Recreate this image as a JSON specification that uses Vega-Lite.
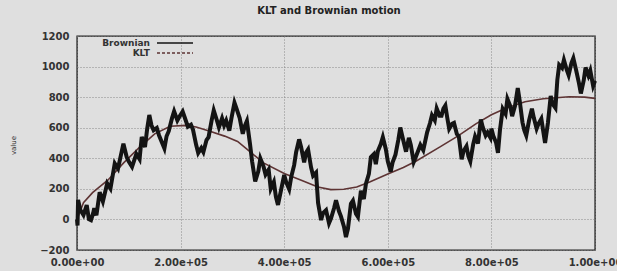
{
  "$schema": "https://vega.github.io/schema/vega-lite/v6.json",
  "width": 518,
  "height": 214,
  "autosize": "none",
  "padding": {"left": 77, "top": 36, "right": 22, "bottom": 21},
  "background": "#dfdfdf",
  "config": {
    "view": {"stroke": "#222222", "strokeWidth": 1.4, "fill": "#dfdfdf"},
    "font": "DejaVu Sans"
  },
  "title": {"text": "KLT and Brownian motion", "font": "DejaVu Sans", "fontSize": 10, "fontWeight": "bold", "color": "#222222", "offset": 15, "anchor": "middle", "dx": -7},
  "datasets": {
    "brownian": [
      {"x":0,"value":0},{"x":1000,"value":-40},{"x":2083,"value":128},{"x":6250,"value":63},{"x":12500,"value":29},{"x":18750,"value":94},{"x":22900,"value":2},{"x":27000,"value":-5},{"x":31250,"value":41},{"x":33300,"value":74},{"x":37500,"value":27},{"x":43750,"value":178},{"x":50000,"value":118},{"x":58300,"value":236},{"x":64600,"value":202},{"x":72900,"value":366},{"x":79200,"value":333},{"x":83300,"value":398},{"x":89600,"value":496},{"x":95800,"value":410},{"x":100000,"value":378},{"x":106250,"value":344},{"x":114600,"value":429},{"x":120800,"value":395},{"x":125000,"value":540},{"x":131250,"value":473},{"x":135400,"value":591},{"x":139600,"value":683},{"x":143750,"value":616},{"x":147900,"value":584},{"x":154000,"value":598},{"x":158300,"value":551},{"x":164600,"value":499},{"x":168750,"value":465},{"x":172900,"value":544},{"x":177100,"value":577},{"x":183300,"value":661},{"x":187500,"value":707},{"x":193750,"value":648},{"x":197900,"value":673},{"x":204000,"value":706},{"x":208000,"value":667},{"x":214000,"value":607},{"x":220000,"value":620},{"x":224000,"value":586},{"x":230000,"value":488},{"x":234000,"value":435},{"x":240000,"value":467},{"x":244000,"value":441},{"x":250000,"value":519},{"x":254000,"value":538},{"x":260000,"value":650},{"x":264000,"value":714},{"x":270000,"value":649},{"x":274000,"value":602},{"x":280000,"value":661},{"x":284000,"value":615},{"x":288000,"value":647},{"x":294000,"value":581},{"x":298000,"value":660},{"x":304000,"value":764},{"x":308000,"value":725},{"x":314000,"value":664},{"x":320000,"value":560},{"x":324000,"value":612},{"x":328000,"value":644},{"x":334000,"value":493},{"x":338000,"value":381},{"x":344000,"value":249},{"x":350000,"value":315},{"x":354000,"value":399},{"x":360000,"value":347},{"x":364000,"value":294},{"x":370000,"value":326},{"x":374000,"value":201},{"x":380000,"value":246},{"x":384000,"value":148},{"x":388000,"value":95},{"x":394000,"value":193},{"x":400000,"value":291},{"x":403800,"value":244},{"x":409600,"value":198},{"x":413500,"value":277},{"x":419200,"value":355},{"x":423000,"value":440},{"x":428800,"value":524},{"x":432700,"value":472},{"x":438500,"value":373},{"x":442300,"value":438},{"x":446100,"value":458},{"x":451900,"value":340},{"x":455800,"value":286},{"x":461500,"value":306},{"x":465400,"value":108},{"x":471200,"value":-4},{"x":475000,"value":42},{"x":480800,"value":61},{"x":486500,"value":-24},{"x":490400,"value":8},{"x":496200,"value":73},{"x":500000,"value":126},{"x":505800,"value":53},{"x":509600,"value":20},{"x":515400,"value":-47},{"x":519200,"value":-115},{"x":523100,"value":-60},{"x":528800,"value":103},{"x":532700,"value":123},{"x":538500,"value":37},{"x":542300,"value":17},{"x":548100,"value":187},{"x":553800,"value":134},{"x":557700,"value":232},{"x":563500,"value":298},{"x":567300,"value":408},{"x":573100,"value":428},{"x":576900,"value":362},{"x":580800,"value":447},{"x":586500,"value":493},{"x":590400,"value":538},{"x":596200,"value":459},{"x":600000,"value":380},{"x":605600,"value":313},{"x":609300,"value":373},{"x":614800,"value":424},{"x":620400,"value":522},{"x":624100,"value":601},{"x":629600,"value":521},{"x":635200,"value":443},{"x":640700,"value":534},{"x":644400,"value":488},{"x":650000,"value":376},{"x":655500,"value":421},{"x":662900,"value":487},{"x":668500,"value":453},{"x":675900,"value":570},{"x":681400,"value":629},{"x":685200,"value":681},{"x":690700,"value":648},{"x":694400,"value":726},{"x":700000,"value":679},{"x":703700,"value":679},{"x":707400,"value":725},{"x":711100,"value":745},{"x":714800,"value":665},{"x":718500,"value":593},{"x":724100,"value":625},{"x":727800,"value":631},{"x":733300,"value":559},{"x":737000,"value":545},{"x":742600,"value":394},{"x":746300,"value":447},{"x":751900,"value":479},{"x":755600,"value":413},{"x":759300,"value":380},{"x":764800,"value":491},{"x":768500,"value":543},{"x":774100,"value":496},{"x":779600,"value":654},{"x":783300,"value":603},{"x":788900,"value":549},{"x":792600,"value":569},{"x":798100,"value":535},{"x":800000,"value":594},{"x":803600,"value":548},{"x":809100,"value":501},{"x":812700,"value":436},{"x":816400,"value":580},{"x":821800,"value":723},{"x":827300,"value":691},{"x":830900,"value":788},{"x":836400,"value":742},{"x":840000,"value":676},{"x":845500,"value":741},{"x":850900,"value":860},{"x":854500,"value":780},{"x":860000,"value":635},{"x":863600,"value":583},{"x":867300,"value":549},{"x":872700,"value":648},{"x":878200,"value":725},{"x":881800,"value":666},{"x":887300,"value":594},{"x":890900,"value":626},{"x":896400,"value":659},{"x":900000,"value":579},{"x":903600,"value":500},{"x":909100,"value":631},{"x":914500,"value":808},{"x":918200,"value":755},{"x":923600,"value":729},{"x":927300,"value":913},{"x":930900,"value":1011},{"x":936400,"value":991},{"x":940000,"value":1043},{"x":945500,"value":978},{"x":949100,"value":944},{"x":954500,"value":1023},{"x":958200,"value":1055},{"x":963600,"value":976},{"x":969100,"value":890},{"x":972700,"value":824},{"x":978200,"value":909},{"x":981800,"value":994},{"x":987300,"value":941},{"x":990900,"value":974},{"x":996400,"value":874},{"x":1000000,"value":907}
    ],
    "klt": [
      {"x":0,"value":0},{"x":12500,"value":110},{"x":30000,"value":175},{"x":60000,"value":258},{"x":90000,"value":370},{"x":120000,"value":470},{"x":150000,"value":560},{"x":180000,"value":610},{"x":210000,"value":615},{"x":230000,"value":605},{"x":255000,"value":578},{"x":285000,"value":545},{"x":310000,"value":510},{"x":335000,"value":440},{"x":360000,"value":370},{"x":400000,"value":300},{"x":433000,"value":257},{"x":465000,"value":212},{"x":490000,"value":195},{"x":515000,"value":197},{"x":540000,"value":212},{"x":565000,"value":245},{"x":600000,"value":297},{"x":630000,"value":340},{"x":655000,"value":382},{"x":700000,"value":473},{"x":735000,"value":545},{"x":770000,"value":625},{"x":800000,"value":685},{"x":830000,"value":730},{"x":865000,"value":770},{"x":900000,"value":790},{"x":950000,"value":803},{"x":980000,"value":800},{"x":1000000,"value":792}
    ]
  },
  "encoding": {
    "x": {
      "field": "x", "type": "quantitative",
      "scale": {"domain": [0, 1000000], "nice": false, "zero": false},
      "axis": {
        "title": null, "values": [0, 200000, 400000, 600000, 800000, 1000000],
        "labelExpr": "replace(format(datum.value, '.2e'), 'e+', 'e+0')",
        "labelFont": "DejaVu Sans", "labelFontSize": 10, "labelFontWeight": "bold", "labelColor": "#333333",
        "labelPadding": 7, "ticks": false, "domain": false,
        "grid": true, "gridColor": "#808080", "gridDash": [1, 2], "gridWidth": 0.9,
        "labelOverlap": false, "labelBound": false, "labelFlush": false
      }
    },
    "y": {
      "field": "value", "type": "quantitative",
      "scale": {"domain": [-200, 1200], "nice": false, "zero": false},
      "axis": {
        "title": "value", "titleFont": "DejaVu Sans", "titleFontSize": 7, "titleFontWeight": "normal", "titleColor": "#333333",
        "titleX": -64, "titleY": 109, "titleAngle": 270, "titleAlign": "center", "titleBaseline": "middle",
        "values": [-200, 0, 200, 400, 600, 800, 1000, 1200], "format": "d",
        "labelFont": "DejaVu Sans", "labelFontSize": 10, "labelFontWeight": "bold", "labelColor": "#333333",
        "labelPadding": 8, "ticks": false, "domain": false,
        "grid": true, "gridColor": "#808080", "gridDash": [1, 2], "gridWidth": 0.9,
        "labelOverlap": false, "labelBound": false, "labelFlush": false
      }
    }
  },
  "layer": [
    {
      "data": {"name": "klt"},
      "mark": {"type": "line", "strokeWidth": 1.6},
      "encoding": {
        "color": {"datum": "KLT", "type": "nominal",
          "scale": {"domain": ["Brownian", "KLT"], "range": ["#141414", "#5e3434"]},
          "legend": {
            "title": null, "orient": "none", "legendX": 93, "legendY": 2,
            "padding": 0, "rowPadding": 0,
            "symbolType": "M-4.5,0H4.5", "symbolSize": 64, "symbolStrokeWidth": 1.5,
            "labelAlign": "right", "labelOffset": -30,
            "labelFont": "DejaVu Sans", "labelFontSize": 9, "labelFontWeight": "bold", "labelColor": "#333333",
            "encode": {"symbols": {"update": {"strokeDash": {"signal": "datum.value === 'KLT' ? [3, 2] : [1, 0]"}}}}
          }
        }
      }
    },
    {
      "data": {"name": "brownian"},
      "mark": {"type": "line", "strokeWidth": 4, "strokeJoin": "miter"},
      "encoding": {
        "color": {"datum": "Brownian", "type": "nominal"}
      }
    }
  ]
}
